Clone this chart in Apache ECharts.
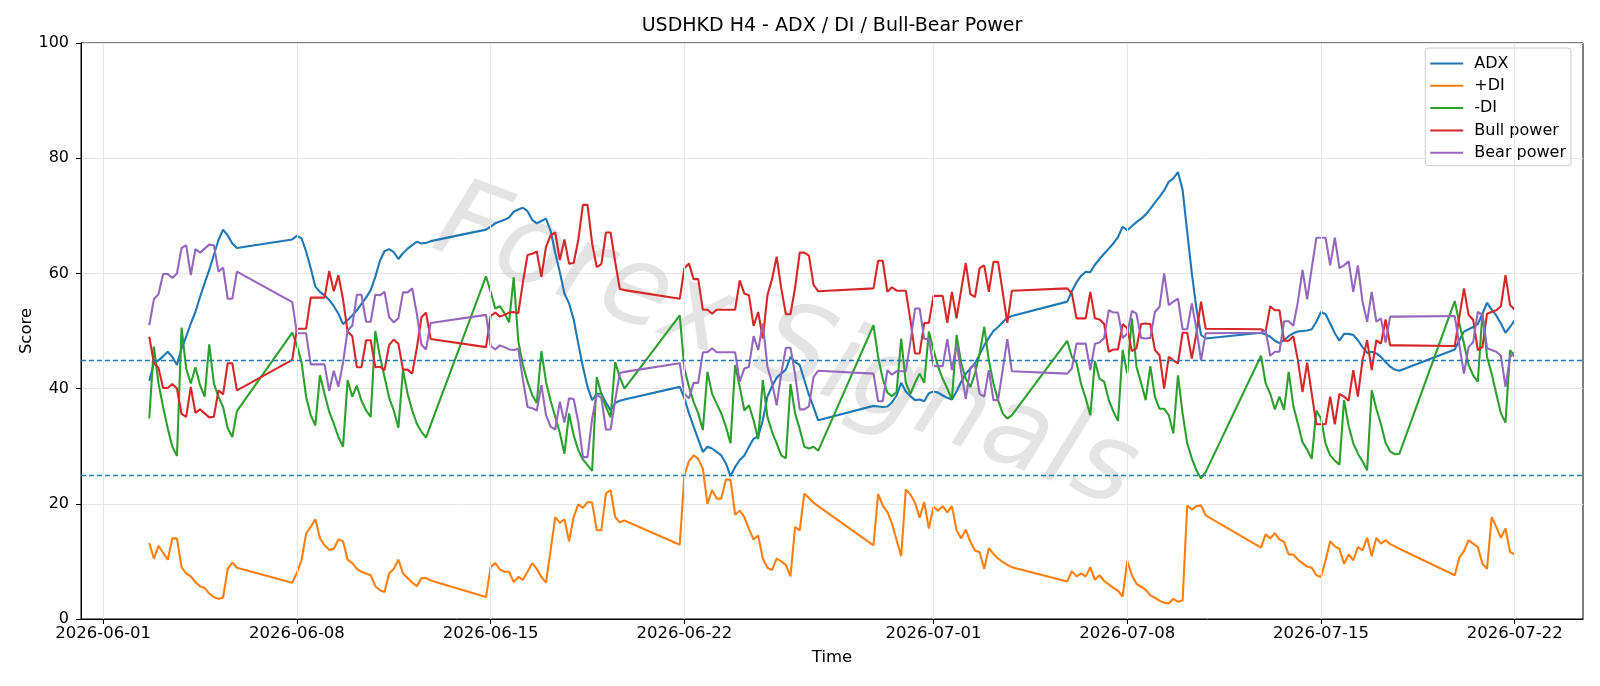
<!DOCTYPE html>
<html style="height:100%;">
<head>
    <meta charset="utf-8">
    <title>USDHKD H4 - ADX / DI / Bull-Bear Power</title>
    <script src="https://cdn.jsdelivr.net/npm/echarts@6.0.0/dist/echarts.min.js"></script>
</head>
<body style="height: 100%; margin: 0;">
    <div id="main" style="width: 1600px; height: 686px;"></div>
    <script type="text/javascript">
    // H4 bars, one block per trading week (weekend gaps are drawn as straight lines)
    var weekStarts = ['2026-06-02T16:00:00Z', '2026-06-07T20:00:00Z', '2026-06-14T20:00:00Z', '2026-06-21T20:00:00Z',
                      '2026-06-28T20:00:00Z', '2026-07-05T20:00:00Z', '2026-07-12T20:00:00Z', '2026-07-19T20:00:00Z'];
    var weekBars = [20, 31, 31, 31, 31, 31, 31, 14];

    var adx = [
        41.3, 44.4, 44.9, 45.6, 46.4, 45.5, 44.1, 47.0, 49.0, 51.3, 53.3, 55.9, 58.3, 60.6, 63.2, 65.8, 67.6, 66.6, 65.2, 64.4,
        65.9, 66.5, 66.1, 63.8, 60.9, 57.7, 56.8, 56.2, 55.4, 54.3, 53.0, 51.2, 51.9, 52.7, 53.6, 54.7, 55.8, 57.1, 59.4, 62.2, 63.9, 64.2, 63.7, 62.5, 63.5, 64.3, 64.9, 65.5, 65.2, 65.3, 65.6,
        67.6, 68.1, 68.7, 69.0, 69.3, 69.7, 70.7, 71.1, 71.4, 70.8, 69.3, 68.7, 69.1, 69.5, 67.4, 63.6, 60.2, 56.5, 54.8, 52.0, 47.8, 43.8, 40.3, 38.0, 39.1, 39.1, 37.6, 36.2, 37.5, 37.9, 38.1,
        40.3, 38.3, 35.7, 33.4, 31.2, 29.0, 29.9, 29.6, 29.0, 28.4, 27.0, 24.8, 26.4, 27.6, 28.4, 29.9, 31.3, 31.7, 34.5, 38.6, 40.4, 41.9, 42.6, 43.3, 45.5, 44.6, 44.1, 41.5, 38.9, 36.8, 34.5,
        37.0, 36.9, 36.8, 36.9, 37.6, 38.8, 41.0, 39.5, 38.7, 38.0, 38.1, 37.8, 39.2, 39.5, 39.3, 38.8, 38.4, 38.1, 39.5, 41.2, 42.6, 43.5, 44.4, 45.9, 47.5, 48.8, 50.0, 50.7, 51.5, 52.3, 52.6,
        55.1, 56.9, 58.4, 59.6, 60.3, 60.2, 61.5, 62.5, 63.4, 64.3, 65.2, 66.3, 68.1, 67.5, 68.2, 68.9, 69.5, 70.2, 71.2, 72.3, 73.3, 74.4, 75.9, 76.5, 77.6, 74.5, 67.2, 60.0, 53.9, 49.3, 48.7,
        49.7, 49.4, 49.0, 48.3, 47.9, 48.4, 49.1, 49.6, 49.9, 50.0, 50.1, 50.3, 51.6, 53.3, 52.9, 51.3, 49.6, 48.3, 49.5, 49.5, 49.3, 48.4, 47.2, 46.2, 46.4, 46.1, 45.5, 44.6, 43.8, 43.3, 43.1,
        46.8, 48.4, 49.9, 50.3, 50.7, 51.2, 53.0, 54.9, 53.7, 52.7, 51.3, 49.7, 50.7, 51.9
    ];
    var plusDI = [
        13.2, 10.5, 12.7, 11.5, 10.3, 14.0, 14.0, 9.0, 7.9, 7.4, 6.4, 5.7, 5.4, 4.4, 3.8, 3.5, 3.7, 8.7, 9.8, 8.9,
        6.3, 8.0, 10.2, 14.8, 16.0, 17.3, 14.0, 12.8, 12.0, 12.2, 13.8, 13.5, 10.3, 9.7, 8.7, 8.2, 7.9, 7.6, 5.7, 5.0, 4.7, 7.9, 8.7, 10.3, 7.9, 7.1, 6.3, 5.7, 7.1, 7.1, 6.7,
        3.8, 9.0, 9.7, 8.6, 8.2, 8.2, 6.4, 7.3, 6.8, 8.2, 9.7, 8.7, 7.3, 6.3, 11.9, 17.7, 16.7, 17.3, 13.5, 17.7, 19.9, 19.3, 20.3, 20.2, 15.4, 15.4, 21.8, 22.4, 17.7, 16.8, 17.1,
        12.9, 25.0, 27.4, 28.4, 27.8, 26.1, 20.0, 22.4, 20.9, 20.9, 24.2, 24.2, 18.1, 18.8, 17.7, 15.6, 13.8, 14.5, 10.5, 8.9, 8.5, 10.5, 10.0, 9.4, 7.4, 16.0, 15.4, 21.8, 21.0, 20.2, 19.6,
        12.8, 21.7, 19.7, 18.6, 16.6, 13.7, 10.9, 22.5, 21.6, 20.2, 17.6, 20.3, 15.7, 19.5, 18.8, 19.6, 18.5, 19.6, 15.4, 14.0, 15.5, 13.4, 11.9, 11.6, 8.7, 12.3, 11.3, 10.5, 9.9, 9.4, 9.0,
        6.5, 8.3, 7.4, 7.9, 7.4, 9.0, 6.8, 7.6, 6.6, 6.0, 5.4, 4.9, 3.9, 10.1, 7.6, 6.1, 5.6, 5.1, 4.1, 3.7, 3.2, 2.8, 2.7, 3.5, 3.0, 3.2, 19.7, 19.0, 19.6, 19.7, 18.0,
        12.4, 14.7, 14.0, 14.9, 13.8, 13.4, 11.2, 11.2, 10.3, 9.7, 9.1, 8.9, 7.6, 7.3, 10.2, 13.5, 12.6, 12.2, 9.6, 11.2, 10.2, 12.5, 11.9, 14.1, 10.9, 14.1, 13.1, 13.7, 13.0, 12.6, 12.2,
        7.6, 10.7, 11.8, 13.7, 13.1, 12.5, 9.6, 8.7, 17.7, 16.0, 14.1, 15.7, 11.6, 11.2
    ];
    var minusDI = [
        34.8, 47.3, 40.9, 36.8, 33.1, 29.9, 28.3, 50.6, 43.5, 40.9, 43.7, 40.6, 38.6, 47.7, 40.9, 38.6, 36.8, 33.1, 31.6, 36.1,
        49.7, 47.5, 44.6, 38.6, 35.4, 33.6, 42.3, 39.1, 36.0, 33.9, 31.6, 29.9, 41.5, 38.6, 40.5, 37.9, 36.2, 35.1, 50.0, 45.6, 42.0, 38.4, 36.2, 33.2, 43.2, 39.1, 36.2, 33.9, 32.5, 31.5, 33.7,
        59.5, 56.8, 53.9, 54.3, 53.1, 51.5, 59.3, 48.2, 44.1, 41.2, 38.9, 37.5, 46.5, 41.2, 37.9, 35.1, 32.3, 28.7, 35.7, 31.9, 29.3, 27.7, 26.7, 25.7, 42.0, 39.1, 36.8, 35.0, 44.6, 42.0, 40.0,
        52.7, 43.5, 40.3, 37.7, 35.7, 32.8, 42.9, 39.1, 37.4, 35.7, 33.4, 30.5, 44.1, 40.3, 36.2, 37.1, 34.5, 31.2, 41.5, 35.1, 32.5, 30.5, 28.4, 27.9, 40.8, 35.7, 33.0, 29.9, 29.6, 29.9, 29.2,
        51.0, 45.5, 41.7, 39.3, 38.7, 39.4, 48.7, 41.0, 39.1, 41.0, 42.6, 41.0, 49.9, 46.7, 43.8, 41.7, 40.0, 38.1, 49.3, 44.4, 41.7, 40.3, 42.6, 46.1, 50.7, 44.9, 40.9, 38.0, 35.7, 34.8, 35.4,
        48.3, 45.5, 44.5, 40.8, 38.3, 35.4, 44.8, 41.7, 41.2, 38.0, 36.0, 34.4, 46.7, 42.6, 52.2, 43.8, 41.0, 38.0, 43.9, 38.6, 36.5, 36.5, 35.4, 32.2, 42.3, 35.7, 30.5, 27.9, 25.8, 24.4, 25.5,
        45.7, 40.9, 39.1, 36.4, 38.6, 36.3, 42.9, 37.0, 33.9, 30.7, 29.4, 27.8, 36.2, 34.8, 30.4, 28.4, 27.5, 26.8, 38.0, 33.5, 30.5, 28.7, 27.4, 25.8, 39.7, 36.5, 33.8, 30.6, 29.1, 28.6, 28.7,
        55.2, 51.3, 47.8, 44.1, 42.3, 41.2, 53.2, 45.5, 42.6, 39.1, 35.7, 34.1, 46.7, 45.5
    ];
    var bullPower = [
        49.0, 44.5, 43.6, 40.1, 40.1, 40.8, 40.0, 35.6, 35.1, 40.3, 35.8, 36.4, 35.7, 35.0, 35.1, 39.7, 39.0, 44.4, 44.4, 39.7,
        45.0, 50.4, 50.4, 50.4, 55.8, 55.8, 55.8, 55.8, 60.4, 56.9, 59.7, 55.5, 49.9, 49.1, 43.7, 43.7, 48.4, 48.4, 43.7, 43.8, 43.2, 47.6, 48.5, 47.8, 43.3, 43.3, 42.6, 47.0, 52.4, 53.2, 48.6,
        47.2, 52.6, 53.2, 52.5, 52.8, 53.2, 53.3, 53.1, 58.5, 63.2, 63.4, 63.8, 59.4, 64.6, 66.6, 67.1, 62.3, 65.9, 61.7, 61.8, 65.8, 71.9, 71.9, 65.2, 61.1, 61.6, 67.1, 67.1, 62.0, 57.3, 57.1,
        55.6, 60.9, 61.7, 59.0, 59.0, 53.7, 53.7, 53.0, 53.7, 53.7, 53.7, 53.7, 53.7, 58.8, 56.5, 56.2, 50.9, 53.3, 48.7, 56.2, 59.0, 62.9, 57.4, 52.9, 52.9, 57.5, 63.6, 63.6, 63.1, 58.0, 56.9,
        57.4, 62.2, 62.2, 56.8, 57.6, 57.0, 57.0, 57.0, 51.9, 46.1, 46.1, 51.4, 51.4, 56.1, 56.1, 56.1, 51.4, 56.8, 52.2, 57.1, 61.8, 56.4, 55.9, 60.9, 61.4, 56.8, 62.0, 62.0, 56.8, 51.4, 57.0,
        57.4, 56.5, 52.2, 52.2, 52.2, 56.8, 52.2, 52.0, 51.2, 46.4, 46.8, 46.8, 51.2, 50.5, 46.5, 47.0, 51.2, 51.3, 51.2, 46.7, 45.8, 40.0, 45.5, 44.9, 44.4, 49.7, 49.7, 45.2, 49.6, 55.1, 50.4,
        50.3, 49.9, 54.3, 53.6, 53.6, 48.3, 48.3, 49.1, 44.9, 39.4, 44.5, 39.1, 33.8, 33.8, 33.8, 38.6, 33.8, 39.1, 38.6, 37.9, 43.2, 38.6, 44.9, 48.4, 43.2, 48.4, 47.8, 52.0, 47.5, 47.5, 47.5,
        47.4, 52.5, 57.4, 52.8, 51.9, 46.7, 47.2, 53.0, 53.3, 53.6, 54.3, 59.7, 54.5, 53.7
    ];
    var bearPower = [
        51.0, 55.5, 56.4, 59.9, 59.9, 59.2, 60.0, 64.4, 64.9, 59.7, 64.2, 63.6, 64.3, 65.0, 64.9, 60.3, 61.0, 55.6, 55.6, 60.3,
        55.0, 49.6, 49.6, 49.6, 44.2, 44.2, 44.2, 44.2, 39.6, 43.1, 40.3, 44.5, 50.1, 50.9, 56.3, 56.3, 51.6, 51.6, 56.3, 56.2, 56.8, 52.4, 51.5, 52.2, 56.7, 56.7, 57.4, 53.0, 47.6, 46.8, 51.4,
        52.8, 47.4, 46.8, 47.5, 47.2, 46.8, 46.7, 46.9, 41.5, 36.8, 36.6, 36.2, 40.6, 35.4, 33.4, 32.9, 37.7, 34.1, 38.3, 38.2, 34.2, 28.1, 28.1, 34.8, 38.9, 38.4, 32.9, 32.9, 38.0, 42.7, 42.9,
        44.4, 39.1, 38.3, 41.0, 41.0, 46.3, 46.3, 47.0, 46.3, 46.3, 46.3, 46.3, 46.3, 41.2, 43.5, 43.8, 49.1, 46.7, 51.3, 43.8, 41.0, 37.1, 42.6, 47.1, 47.1, 42.5, 36.4, 36.4, 36.9, 42.0, 43.1,
        42.6, 37.8, 37.8, 43.2, 42.4, 43.0, 43.0, 43.0, 48.1, 53.9, 53.9, 48.6, 48.6, 43.9, 43.9, 43.9, 48.6, 43.2, 47.8, 42.9, 38.2, 43.6, 44.1, 39.1, 38.6, 43.2, 38.0, 38.0, 43.2, 48.6, 43.0,
        42.6, 43.5, 47.8, 47.8, 47.8, 43.2, 47.8, 48.0, 48.8, 53.6, 53.2, 53.2, 48.8, 49.5, 53.5, 53.0, 48.8, 48.7, 48.8, 53.3, 54.2, 60.0, 54.5, 55.1, 55.6, 50.3, 50.3, 54.8, 50.4, 44.9, 49.6,
        49.7, 50.1, 45.7, 46.4, 46.4, 51.7, 51.7, 50.9, 55.1, 60.6, 55.5, 60.9, 66.2, 66.2, 66.2, 61.4, 66.2, 60.9, 61.4, 62.1, 56.8, 61.4, 55.1, 51.6, 56.8, 51.6, 52.2, 48.0, 52.5, 52.5, 52.5,
        52.6, 47.5, 42.6, 47.2, 48.1, 53.3, 52.8, 47.0, 46.7, 46.4, 45.7, 40.3, 45.5, 46.3
    ];

    var tickDates = ['2026-06-01', '2026-06-08', '2026-06-15', '2026-06-22', '2026-07-01', '2026-07-08', '2026-07-15', '2026-07-22'];
    var thresholds = [45, 25];

    var H4 = 4 * 3600 * 1000;
    var times = [];
    weekStarts.forEach(function (s, i) {
        var base = Date.parse(s);
        for (var k = 0; k < weekBars[i]; k++) times.push(base + k * H4);
    });
    var tickValues = tickDates.map(function (d) { return Date.parse(d + 'T00:00:00Z'); });

    function pair(values) {
        return values.map(function (v, i) { return [times[i], v]; });
    }
    function pad(n) { return n < 10 ? '0' + n : '' + n; }
    function fmtDate(v) {
        var d = new Date(v);
        return d.getUTCFullYear() + '-' + pad(d.getUTCMonth() + 1) + '-' + pad(d.getUTCDate());
    }

    var font = 'DejaVu Sans';
    var colors = ['#1f77b4', '#ff7f0e', '#2ca02c', '#d62728', '#9467bd'];

    function lineSeries(name, values, color, extra) {
        var s = {
            name: name,
            type: 'line',
            data: pair(values),
            showSymbol: false,
            symbol: 'none',
            z: 3,
            lineStyle: { color: color, width: 2.1 },
            itemStyle: { color: color },
            animation: false
        };
        if (extra) for (var key in extra) s[key] = extra[key];
        return s;
    }

    var myChart = echarts.init(document.getElementById('main'), null, { renderer: 'canvas' });
    myChart.setOption({
        animation: false,
        backgroundColor: '#ffffff',
        textStyle: { fontFamily: font },
        title: {
            text: 'USDHKD H4 - ADX / DI / Bull-Bear Power',
            left: 832,
            textAlign: 'center',
            top: 17,
            padding: 0,
            textStyle: { fontFamily: font, fontSize: 19, fontWeight: 'normal', color: '#000' }
        },
        legend: {
            data: ['ADX', '+DI', '-DI', 'Bull power', 'Bear power'],
            orient: 'vertical',
            right: 29,
            top: 48,
            icon: 'rect',
            itemWidth: 33,
            itemHeight: 2,
            itemGap: 4.3,
            padding: [6.5, 5, 4, 5],
            backgroundColor: 'rgba(255,255,255,0.8)',
            borderColor: '#cccccc',
            borderWidth: 1,
            borderRadius: 3,
            textStyle: { fontFamily: font, fontSize: 16, color: '#000', lineHeight: 18, padding: [0, 0, 0, 6] }
        },
        grid: {
            left: 81, right: 17, top: 43, bottom: 67,
            show: true, borderColor: '#000', borderWidth: 1, backgroundColor: 'transparent'
        },
        xAxis: {
            type: 'value',
            min: Date.parse('2026-05-31T04:48:00Z'),
            max: Date.parse('2026-07-24T11:12:00Z'),
            name: 'Time',
            nameLocation: 'middle',
            nameGap: 30,
            nameTextStyle: { fontFamily: font, fontSize: 16.5, color: '#000' },
            axisLine: { show: true, onZero: false, lineStyle: { color: '#000', width: 1 } },
            axisTick: { show: true, length: 5, lineStyle: { color: '#000' }, customValues: tickValues },
            axisLabel: {
                customValues: tickValues,
                formatter: function (v) { return fmtDate(v); },
                fontFamily: font, fontSize: 16.5, color: '#000', margin: 6
            },
            splitLine: { show: false }
        },
        yAxis: {
            type: 'value',
            min: 0, max: 100, interval: 20,
            name: 'Score',
            nameLocation: 'middle',
            nameGap: 46,
            nameMoveOverlap: false,
            nameTextStyle: { fontFamily: font, fontSize: 16.5, color: '#000' },
            axisLine: { show: true, lineStyle: { color: '#000', width: 1 } },
            axisTick: { show: true, length: 5, lineStyle: { color: '#000' } },
            axisLabel: { fontFamily: font, fontSize: 16, color: '#000', margin: 12 },
            splitLine: { show: true, lineStyle: { color: '#e6e6e6', width: 1 } }
        },
        graphic: [{
            type: 'text',
            x: 785, y: 350,
            rotation: -0.36,
            silent: true,
            z: 1,
            style: {
                text: 'Forex Signals',
                font: 'italic 200 110px "DejaVu Sans"',
                fill: 'rgba(165,165,165,0.3)',
                align: 'center',
                verticalAlign: 'middle'
            }
        }],
        series: [
            {
                // vertical grid lines at the date ticks
                name: 'grid',
                type: 'line',
                data: [[tickValues[0], null]],
                symbol: 'none',
                z: 1,
                lineStyle: { opacity: 0 },
                silent: true,
                markLine: {
                    silent: true,
                    symbol: ['none', 'none'],
                    label: { show: false },
                    lineStyle: { color: '#e6e6e6', width: 1, type: 'solid' },
                    data: tickValues.map(function (t) { return { xAxis: t }; })
                }
            },
            lineSeries('ADX', adx, colors[0], {
                markLine: {
                    silent: true,
                    symbol: ['none', 'none'],
                    label: { show: false },
                    lineStyle: { color: colors[0], width: 1.3, type: [5, 3] },
                    data: thresholds.map(function (v) { return { yAxis: v }; })
                }
            }),
            lineSeries('+DI', plusDI, colors[1]),
            lineSeries('-DI', minusDI, colors[2]),
            lineSeries('Bull power', bullPower, colors[3]),
            lineSeries('Bear power', bearPower, colors[4])
        ]
    });
    </script>
</body>
</html>
